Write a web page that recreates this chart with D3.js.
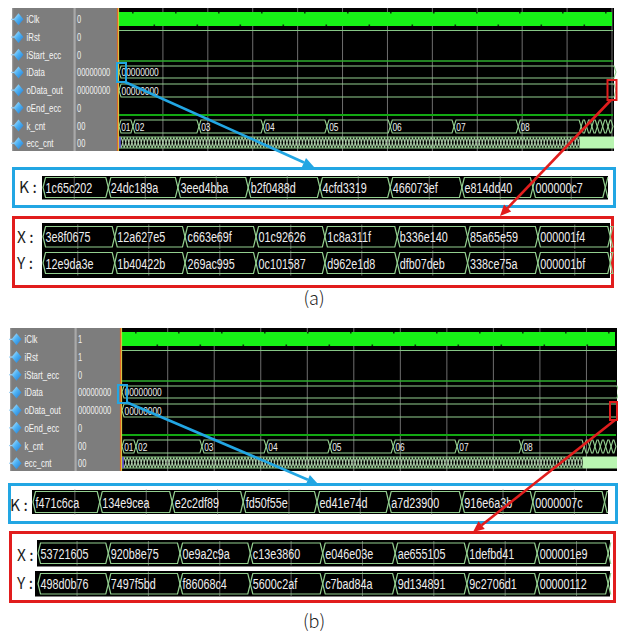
<!DOCTYPE html>
<html>
<head>
<meta charset="utf-8">
<script src="https://cdn.jsdelivr.net/npm/d3@7"></script>
<style>
  body { margin: 0; background: #fff; }
  svg { display: block; }
</style>
</head>
<body>
<svg id="chart" width="618" height="635"></svg>
<script>
// ---- signal list and cursor values ----
const signalNames = ["iClk", "iRst", "iStart_ecc", "iData", "oData_out", "oEnd_ecc", "k_cnt", "ecc_cnt"];
const cursorValuesA = ["0", "0", "0", "00000000", "00000000", "0", "00", "00"];
const cursorValuesB = ["1", "1", "0", "00000000", "00000000", "0", "00", "00"];

// ---- k_cnt bus (time in ns) ----
const kCntLabels = ["01", "02", "03", "04", "05", "06", "07", "08"];
const kCntTimes = [0, 31, 178, 321, 463, 604, 746, 889];
const kCntBurstTimes = [1029, 1041, 1053, 1065, 1077, 1089];
const eccBusyEnd = 1028;

// ---- zoomed bus values, panel (a) ----
const kValuesA = ["1c65c202", "24dc189a", "3eed4bba", "b2f0488d", "4cfd3319", "466073ef", "e814dd40", "000000c7"];
const xValuesA = ["3e8f0675", "12a627e5", "c663e69f", "01c92626", "1c8a311f", "b336e140", "85a65e59", "000001f4"];
const yValuesA = ["12e9da3e", "1b40422b", "269ac995", "0c101587", "d962e1d8", "dfb07deb", "338ce75a", "000001bf"];
const kTimesA = [0, 92, 190, 289, 390, 489, 590, 690, 792];
const xyTimesA = [0, 101, 200, 300, 397, 499, 598, 697, 799];

// ---- zoomed bus values, panel (b) ----
const kValuesB = ["f471c6ca", "134e9cea", "e2c2df89", "fd50f55e", "ed41e74d", "a7d23900", "916e6a3b", "0000007c"];
const xValuesB = ["53721605", "920b8e75", "0e9a2c9a", "c13e3860", "e046e03e", "ae655105", "1defbd41", "000001e9"];
const yValuesB = ["498d0b76", "7497f5bd", "f86068c4", "5600c2af", "c7bad84a", "9d134891", "9c2706d1", "00000112"];
const kTimesB = [0, 94, 196, 296, 400, 501, 604, 704, 805];
const xyTimesB = [0, 99, 200, 299, 401, 503, 604, 703, 803];

const panelLabels = ["(a)", "(b)"];

// ---- drawing ----
const svg = d3.select("#chart");
const defs = svg.append("defs");

const grad = defs.append("linearGradient").attr("id", "pinGrad")
  .attr("x1", "0").attr("x2", "1").attr("y1", "0").attr("y2", "1");
grad.append("stop").attr("offset", "0%").attr("stop-color", "#c4ebff");
grad.append("stop").attr("offset", "45%").attr("stop-color", "#4fb3f5");
grad.append("stop").attr("offset", "100%").attr("stop-color", "#1f78cf");

const BUS = "#93cf8f";
const TXT = "#eeeeee";
const SANS = "'Liberation Sans', Arial, sans-serif";

// condensed text: Arial glyphs squeezed horizontally by a transform
function narrow(g, x, y, str, size, sx, fill) {
  return g.append("text")
    .attr("transform", `translate(${x},${y}) scale(${sx},1)`)
    .text(str)
    .attr("font-family", SANS).attr("font-size", size).attr("fill", fill);
}

function busPath(x0, x1, yt, yb, d) {
  const ym = (yt + yb) / 2;
  d = Math.min(d, (x1 - x0) / 2);
  return `M${x0},${ym}L${x0 + d},${yt}L${x1 - d},${yt}L${x1},${ym}L${x1 - d},${yb}L${x0 + d},${yb}Z`;
}

function drawWavePanel(cfg) {
  const g = svg.append("g");
  const top = cfg.top, bottom = cfg.top + 143;
  const pitch = 17.7;
  const rowY = i => top + pitch * i + pitch / 2 + 2.5;
  const x = d3.scaleLinear().domain([0, 1100]).range([cfg.waveX0, cfg.waveX1]);

  // name + value columns
  g.append("rect").attr("x", cfg.left).attr("y", top).attr("width", cfg.waveX0 - cfg.left).attr("height", 143)
    .attr("fill", "#7d7d7d");
  g.append("rect").attr("x", cfg.sepX).attr("y", top).attr("width", 2.2).attr("height", 143).attr("fill", "#a9a9a9");
  g.append("rect").attr("x", cfg.left).attr("y", top).attr("width", 1.2).attr("height", 143).attr("fill", "#9a9a9a");

  signalNames.forEach((name, i) => {
    const cy = rowY(i);
    const dx = cfg.left + 6.5;
    g.append("path")
      .attr("d", `M${dx},${cy - 6}L${dx + 5},${cy}L${dx},${cy + 6}L${dx - 5},${cy}Z`)
      .attr("fill", "url(#pinGrad)");
    g.append("rect").attr("x", dx - 7.5).attr("y", cy - 0.6).attr("width", 3).attr("height", 1.2).attr("fill", "#9fd2f5");
    narrow(g, cfg.left + 14.5, cy + 4, name, 11.5, 0.68, "#f5f5f5");
    narrow(g, cfg.sepX + 3.5, cy + 4, cfg.values[i], 11.5, 0.65, "#f0f0f0");
  });

  // waveform area
  g.append("rect").attr("x", cfg.waveX0).attr("y", top).attr("width", cfg.waveX1 + 2 - cfg.waveX0).attr("height", 143)
    .attr("fill", "#000");
  g.selectAll(".grid").data(cfg.grid).join("line")
    .attr("x1", d => x(d)).attr("x2", d => x(d)).attr("y1", top).attr("y2", bottom)
    .attr("stroke", "#6e6e6e").attr("stroke-width", 1);

  // iClk: dense toggling shows as a solid band
  g.append("rect").attr("x", cfg.waveX0 + 1).attr("y", top + 4).attr("width", cfg.waveX1 - cfg.waveX0 - 1).attr("height", 14)
    .attr("fill", "#17f217");
  g.selectAll(".notch").data(d3.range(cfg.waveX0 + 14, cfg.waveX1 - 4, 21.5)).join("rect")
    .attr("x", d => d).attr("y", (d, i) => i % 2 ? top + 16.5 : top + 4).attr("width", 1.6).attr("height", 1.5)
    .attr("fill", "#0a3a0a");

  // single-bit lines
  const lines = [
    { y: top + 22.5, c: "#86c686", w: 1.2 },
    { y: top + 53, c: "#2fae2f", w: 1.6 },
    { y: top + 107, c: "#12a812", w: 2.2 }
  ];
  g.selectAll(".bit").data(lines).join("line")
    .attr("x1", cfg.waveX0 + 1).attr("x2", cfg.waveX1 + 1).attr("y1", d => d.y).attr("y2", d => d.y)
    .attr("stroke", d => d.c).attr("stroke-width", d => d.w);

  // iData / oData_out buses
  [[top + 58, top + 70], [top + 76, top + 89]].forEach(([yt, yb]) => {
    g.append("path").attr("d", busPath(x(0) + 1, cfg.waveX1 + 4, yt, yb, 2))
      .attr("fill", "none").attr("stroke", BUS).attr("stroke-width", 1.1);
    narrow(g, x(0) + 3.5, (yt + yb) / 2 + 4, "00000000", 11.5, 0.73, TXT);
  });

  // k_cnt bus
  const kyT = top + 112, kyB = top + 125;
  const kEdges = kCntTimes.concat(kCntBurstTimes, [1100]);
  g.selectAll(".kseg").data(d3.range(kEdges.length - 1)).join("path")
    .attr("d", i => busPath(x(kEdges[i]) + 1, x(kEdges[i + 1]) + 1, kyT, kyB, 2))
    .attr("fill", "none").attr("stroke", BUS).attr("stroke-width", 1.1);
  kCntLabels.forEach((lab, i) => narrow(g, x(kCntTimes[i]) + 3.2, (kyT + kyB) / 2 + 4, lab, 11.5, 0.73, TXT));

  // ecc_cnt bus: fast counting then settled
  const eyT = top + 129, eyB = top + 140;
  const pat = defs.append("pattern").attr("id", "ecc" + cfg.id).attr("patternUnits", "userSpaceOnUse")
    .attr("x", x(0)).attr("y", eyT).attr("width", 3.1).attr("height", eyB - eyT);
  pat.append("path").attr("d", `M0,0L1.55,${(eyB - eyT) / 2}L0,${eyB - eyT}M3.1,0L1.55,${(eyB - eyT) / 2}L3.1,${eyB - eyT}`)
    .attr("fill", "none").attr("stroke", "#a8dca2").attr("stroke-width", 0.9);
  pat.append("rect").attr("x", 0.9).attr("y", 2).attr("width", 1.3).attr("height", eyB - eyT - 4)
    .attr("fill", "#cfd6cf").attr("opacity", 0.45);
  g.append("rect").attr("x", x(0) + 2).attr("y", eyT).attr("width", x(eccBusyEnd) - x(0) - 2).attr("height", eyB - eyT)
    .attr("fill", `url(#ecc${cfg.id})`);
  g.append("line").attr("x1", x(0) + 1).attr("x2", x(eccBusyEnd)).attr("y1", eyT).attr("y2", eyT)
    .attr("stroke", BUS).attr("stroke-width", 1);
  g.append("line").attr("x1", x(0) + 1).attr("x2", x(eccBusyEnd)).attr("y1", eyB).attr("y2", eyB)
    .attr("stroke", BUS).attr("stroke-width", 1);
  g.append("rect").attr("x", x(0) + 1).attr("y", eyT).attr("width", 1.8).attr("height", eyB - eyT).attr("fill", "#5a4fd0");
  g.append("rect").attr("x", x(eccBusyEnd)).attr("y", eyT - 0.5).attr("width", x(1100) + 2 - x(eccBusyEnd)).attr("height", eyB - eyT + 1)
    .attr("fill", "#b9f5b1");

  // cursor at t = 0
  g.append("line").attr("x1", cfg.waveX0 - 0.5).attr("x2", cfg.waveX0 - 0.5).attr("y1", top).attr("y2", bottom)
    .attr("stroke", "#e0662a").attr("stroke-width", 1.2);
  g.append("line").attr("x1", cfg.waveX0 + 0.6).attr("x2", cfg.waveX0 + 0.6).attr("y1", top).attr("y2", bottom)
    .attr("stroke", "#e7d84a").attr("stroke-width", 1);
}

function drawStrip(g, s) {
  const xs = d3.scaleLinear().domain([0, 800]).range([s.x0, s.x0 + 568]);
  const ym = (s.yt + s.yb) / 2;
  const t = s.times;
  g.selectAll(null).data(s.grid).join("line")
    .attr("x1", d => xs(d)).attr("x2", d => xs(d)).attr("y1", s.yt - 2).attr("y2", s.yb + 2)
    .attr("stroke", "#7a7a7a").attr("stroke-width", 0.8);
  g.selectAll(null).data(s.values).join("path")
    .attr("d", (d, i) => busPath(xs(t[i]), xs(t[i + 1]), s.yt, s.yb, 2.5))
    .attr("fill", "none").attr("stroke", BUS).attr("stroke-width", 1.2);
  const xe = xs(t[t.length - 1]);
  g.append("path").attr("d", `M${s.xr},${s.yt}L${xe + 2.5},${s.yt}L${xe},${ym}L${xe + 2.5},${s.yb}L${s.xr},${s.yb}`)
    .attr("fill", "none").attr("stroke", BUS).attr("stroke-width", 1.2);
  s.values.forEach((v, i) => narrow(g, xs(t[i]) + 2.5, ym + 5.6, v, 15, 0.72, TXT));
}

function drawZoomBoxes(cfg) {
  const g = svg.append("g");
  // K box (blue)
  const kb = cfg.kBox;
  g.append("rect").attr("x", kb.x).attr("y", kb.y).attr("width", kb.w).attr("height", kb.h)
    .attr("fill", "#fff").attr("stroke", "#22a6e3").attr("stroke-width", 3);
  g.append("rect").attr("x", kb.bx).attr("y", kb.by).attr("width", kb.bw).attr("height", kb.bh).attr("fill", "#000");
  g.append("text").attr("x", kb.lx).attr("y", kb.ly).text("K :")
    .attr("font-family", "'Noto Sans CJK KR', 'Noto Sans', sans-serif").attr("font-size", 15.5).attr("fill", "#1b1b1b");
  drawStrip(g, { x0: kb.sx, yt: kb.yt, yb: kb.yb, xr: kb.bx + kb.bw, values: cfg.kValues, times: cfg.kTimes, grid: cfg.kGrid });

  // X / Y box (red)
  const rb = cfg.xyBox;
  g.append("rect").attr("x", rb.x).attr("y", rb.y).attr("width", rb.w).attr("height", rb.h)
    .attr("fill", "#fff").attr("stroke", "#e11d1d").attr("stroke-width", 3);
  rb.blacks.forEach(b => g.append("rect").attr("x", b[0]).attr("y", b[1]).attr("width", b[2]).attr("height", b[3]).attr("fill", "#000"));
  [["X :", rb.xly], ["Y :", rb.yly]].forEach(([lab, ly]) => {
    g.append("text").attr("x", rb.lx).attr("y", ly).text(lab)
      .attr("font-family", "'Noto Sans CJK KR', 'Noto Sans', sans-serif").attr("font-size", 15.5).attr("fill", "#1b1b1b");
  });
  drawStrip(g, { x0: rb.sx, yt: rb.xyt, yb: rb.xyb, xr: rb.xr, values: cfg.xValues, times: cfg.xyTimes, grid: cfg.xyGrid });
  drawStrip(g, { x0: rb.sx, yt: rb.yyt, yb: rb.yyb, xr: rb.xr, values: cfg.yValues, times: cfg.xyTimes, grid: cfg.xyGrid });
}

function arrow(g, x1, y1, x2, y2, color, w) {
  const a = Math.atan2(y2 - y1, x2 - x1), L = 11, W = 5;
  const bx = x2 - L * Math.cos(a), by = y2 - L * Math.sin(a);
  g.append("line").attr("x1", x1).attr("y1", y1).attr("x2", bx).attr("y2", by)
    .attr("stroke", color).attr("stroke-width", w);
  g.append("path").attr("d",
    `M${x2},${y2}L${bx + W * Math.sin(a)},${by - W * Math.cos(a)}L${bx - W * Math.sin(a)},${by + W * Math.cos(a)}Z`)
    .attr("fill", color);
}

const panels = [
  {
    id: "A", top: 8, left: 12, sepX: 73.5, waveX0: 118, waveX1: 612, values: cursorValuesA,
    grid: d3.range(100, 1101, 100),
    kValues: kValuesA, kTimes: kTimesA, kGrid: d3.range(44, 800, 100),
    xValues: xValuesA, yValues: yValuesA, xyTimes: xyTimesA, xyGrid: d3.range(49, 800, 100),
    kBox: { x: 13.5, y: 168.5, w: 601, h: 38, bx: 42, by: 176, bw: 566, bh: 23.5, lx: 19, ly: 193, sx: 43, yt: 177.5, yb: 197.5 },
    xyBox: { x: 13.5, y: 217.5, w: 599, h: 69, blacks: [[42, 223, 568, 55]], lx: 17, xly: 243, yly: 269,
             sx: 43, xr: 610, xyt: 226.5, xyb: 247, yyt: 252.5, yyb: 273.5 },
    selBox: [117, 63, 9, 19], selRed: [607.5, 80, 9, 20],
    blueArrow: [125, 82, 314, 167], redArrow: [611, 100, 500, 216],
    label: [314, 305]
  },
  {
    id: "B", top: 328, left: 10, sepX: 74.5, waveX0: 121, waveX1: 615, values: cursorValuesB,
    grid: d3.range(104, 1100, 103.6),
    kValues: kValuesB, kTimes: kTimesB, kGrid: d3.range(59, 800, 100.5),
    xValues: xValuesB, yValues: yValuesB, xyTimes: xyTimesB, xyGrid: d3.range(55, 800, 100.5),
    kBox: { x: 9.5, y: 484.5, w: 607, h: 38, bx: 32, by: 490, bw: 576, bh: 24, lx: 10, ly: 511, sx: 33, yt: 491.5, yb: 512.5 },
    xyBox: { x: 10.5, y: 532.5, w: 604, h: 69, blacks: [[37, 540, 573, 26.5], [35, 571, 575, 25.5]], lx: 17, xly: 561, yly: 589,
             sx: 38, xr: 610, xyt: 543, xyb: 563.5, yyt: 573.5, yyb: 594 },
    selBox: [118, 385, 9, 18], selRed: [610, 402, 7, 18],
    blueArrow: [126, 402, 318, 484], redArrow: [615, 420, 473, 532],
    label: [314, 628]
  }
];

panels.forEach((p, pi) => {
  drawWavePanel(p);
  drawZoomBoxes(p);
  const g = svg.append("g");
  g.append("rect").attr("x", p.selBox[0]).attr("y", p.selBox[1]).attr("width", p.selBox[2]).attr("height", p.selBox[3])
    .attr("fill", "none").attr("stroke", "#22a6e3").attr("stroke-width", 2);
  g.append("rect").attr("x", p.selRed[0]).attr("y", p.selRed[1]).attr("width", p.selRed[2]).attr("height", p.selRed[3])
    .attr("fill", "none").attr("stroke", "#e11d1d").attr("stroke-width", 2);
  arrow(g, ...p.blueArrow, "#22a6e3", 2.6);
  arrow(g, ...p.redArrow, "#e11d1d", 2.6);
  g.append("text").attr("x", p.label[0]).attr("y", p.label[1]).attr("text-anchor", "middle").text(panelLabels[pi])
    .attr("font-family", "'Noto Sans CJK KR', 'Noto Sans', sans-serif").attr("font-weight", 300)
    .attr("font-size", 18).attr("fill", "#222");
});
</script>
</body>
</html>
